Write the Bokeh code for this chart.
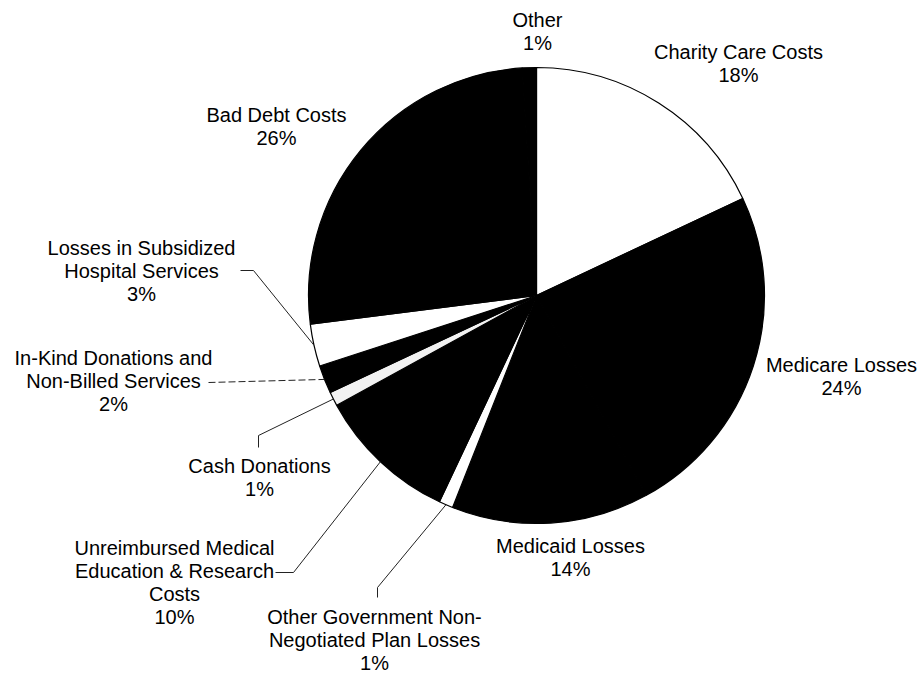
import math
from bokeh.plotting import figure
from bokeh.models import Range1d, ColumnDataSource
from bokeh.core.properties import value
from bokeh.embed import file_html
from bokeh.resources import INLINE

# ---- data (clockwise from 12 o'clock) ----
categories = [
    "Charity Care Costs", "Medicare Losses", "Medicaid Losses",
    "Other Government Non-Negotiated Plan Losses",
    "Unreimbursed Medical Education & Research Costs", "Cash Donations",
    "In-Kind Donations and Non-Billed Services",
    "Losses in Subsidized Hospital Services", "Bad Debt Costs", "Other",
]
percents = [18, 24, 14, 1, 10, 1, 2, 3, 26, 1]
label_lines = [
    ["Charity Care Costs"], ["Medicare Losses"], ["Medicaid Losses"],
    ["Other Government Non-", "Negotiated Plan Losses"],
    ["Unreimbursed Medical", "Education & Research", "Costs"],
    ["Cash Donations"],
    ["In-Kind Donations and", "Non-Billed Services"],
    ["Losses in Subsidized", "Hospital Services"],
    ["Bad Debt Costs"], ["Other"],
]

# ---- styles / layout ----
fills = ["#ffffff", "#000000", "#000000", "#ffffff", "#000000",
         "#f2f2f2", "#000000", "#ffffff", "#000000", "#000000"]
W, H = 919, 673
CX, CY, R = 536, 295, 228          # pie centre / radius in page pixels
FONT = value("Liberation Sans")
FS = "20px"

# label centre x and first-line baseline (page px), line step
label_pos = [
    (738, 51), (841, 364), (570, 545), (374, 616), (174, 547),
    (259, 465), (113, 357), (141, 247), (276, 114), (537, 19),
]
LSTEP = 23

# leader line text-side points (page px)
leaders = {
    3: [(377, 597), (377, 587)],
    4: [(275, 572), (293, 572)],
    5: [(258, 447), (258, 435)],
    6: [(208, 382)],
    7: [(240, 270), (253, 270)],
}
dashed = {6}

def fy(py):
    return H - py

p = figure(width=W, height=H, x_range=Range1d(0, W), y_range=Range1d(0, H),
           output_backend="svg", toolbar_location=None,
           x_axis_type=None, y_axis_type=None, min_border=0,
           outline_line_color=None, background_fill_color="white",
           border_fill_color="white")
p.grid.visible = False

total = float(sum(percents))
starts, ends, mids = [], [], []
cum = 0.0
for v in percents:
    a0 = cum / total * 2 * math.pi
    cum += v
    a1 = cum / total * 2 * math.pi
    starts.append(math.pi / 2 - a0)
    ends.append(math.pi / 2 - a1)
    mids.append((a0 + a1) / 2)

src = ColumnDataSource(dict(x=[CX] * len(percents), y=[fy(CY)] * len(percents),
                            start=starts, end=ends, color=fills))
p.wedge(x="x", y="y", radius=R, start_angle="start", end_angle="end",
        direction="clock", fill_color="color", line_color="black",
        line_width=1.2, source=src)

# leaders
for i, pts in leaders.items():
    th = mids[i]
    ex = CX + R * math.sin(th)
    ey = CY - R * math.cos(th)
    xs = [q[0] for q in pts] + [ex]
    ys = [fy(q[1]) for q in pts] + [fy(ey)]
    if i in dashed:
        p.line(xs, ys, line_color="#222222", line_width=1, line_dash="7 3")
    else:
        p.line(xs, ys, line_color="#222222", line_width=1)

# labels
tx, ty, tt = [], [], []
for i, lines in enumerate(label_lines):
    cx, by = label_pos[i]
    allx = lines + [f"{percents[i]}%"]
    for k, s in enumerate(allx):
        tx.append(cx)
        ty.append(fy(by + k * LSTEP))
        tt.append(s)
p.text(x=tx, y=ty, text=tt, text_font=FONT, text_font_size=FS,
       text_align="center", text_baseline="alphabetic", text_color="black")

open("out.html", "w").write(file_html(p, INLINE))
